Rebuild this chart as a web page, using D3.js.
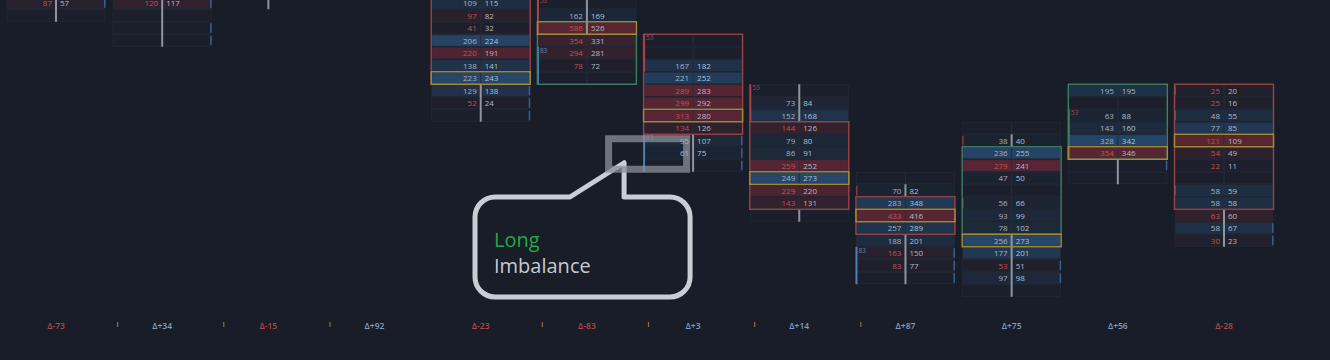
<!DOCTYPE html>
<html lang="en">
<head>
<meta charset="UTF-8">
<title>Footprint</title>
<script src="https://cdnjs.cloudflare.com/ajax/libs/d3/7.8.5/d3.min.js"></script>
<style>
  html, body { margin: 0; padding: 0; background: #181d28; }
  svg { display: block; }
</style>
</head>
<body>
<svg id="chart" width="1330" height="360"></svg>
<script>
    // bar deltas shown along the bottom
    const deltas = [-73, 34, -15, 92, -23, -83, 3, 14, 87, 75, 56, -28];

    // first price row of each ladder, then [bid, ask] per row (null = empty level)
    const ladderStart = [0, 0, 0, 0, 0, 0, 3, 7, 14, 10, 7, 7];
    const ladderVolumes = [
        [[87, 57], null],
        [[120, 117], null, null, null],
        [],
        [],
        [[109, 115], [97, 82], [41, 32], [206, 224], [220, 191], [138, 141], [223, 243], [129, 138], [52, 24], null],
        [null, [162, 169], [586, 526], [354, 331], [294, 281], [78, 72], null],
        [null, null, [167, 182], [221, 252], [289, 283], [299, 292], [313, 280], [134, 126], [95, 107], [61, 75], null],
        [null, [73, 84], [152, 168], [144, 126], [79, 80], [86, 91], [259, 252], [249, 273], [229, 220], [143, 131], null],
        [null, [70, 82], [283, 348], [433, 416], [257, 289], [188, 201], [163, 150], [83, 77], null],
        [null, [38, 40], [236, 255], [279, 241], [47, 50], null, [56, 66], [93, 99], [78, 102], [256, 273], [177, 201], [53, 51], [97, 98], null],
        [[195, 195], null, [63, 88], [143, 160], [328, 342], [354, 346], null, null],
        [[25, 20], [25, 16], [48, 55], [77, 85], [121, 109], [54, 49], [22, 11], null, [58, 59], [58, 58], [63, 60], [58, 67], [30, 23]]
    ];

    // peak level volume of bars whose ladder is mostly above the view
    const offscreenPeak = [430, 480];

    // candle bodies: [bar, fromRow, toRow, direction]
    const bodies = [
        [4, -1, 6, "down"], [5, 3, 6, "up"], [6, 3, 10, "down"], [7, 10, 16, "down"],
        [8, 16, 18, "down"], [9, 12, 18, "up"], [10, 7, 12, "up"], [11, 7, 16, "down"]
    ];

    // wick segments outside the bodies: [bar, fromRow, toRow]
    const wicks = [
        [0, 0, 1], [1, 0, 3], [2, 0, 0], [4, 7, 9], [5, 0, 2], [6, 11, 13], [7, 7, 9], [7, 17, 17],
        [8, 15, 15], [8, 19, 22], [9, 11, 11], [9, 19, 23], [10, 13, 14], [11, 17, 19]
    ];

    // stacked imbalance markers: [bar, fromRow, toRow, side, label]
    const stacks = [
        [5, 0, 2, "sell", "53"], [5, 4, 6, "buy", "83"], [6, 3, 5, "sell", "53"], [6, 11, 13, "buy", "83"],
        [7, 7, 9, "sell", "53"], [8, 20, 22, "buy", "83"], [10, 9, 12, "sell", "53"]
    ];

    // single-level imbalance ticks: [bar, row, edge]
    const edgeTicks = [
        [0, 0, "R"], [1, 0, "R"], [1, 2, "R"], [1, 3, "R"], [4, 7, "R"], [4, 8, "R"], [4, 9, "R"],
        [6, 11, "R"], [6, 12, "R"], [6, 13, "R"], [8, 20, "R"], [8, 21, "R"], [8, 22, "R"],
        [9, 21, "R"], [9, 22, "R"], [10, 13, "R"], [11, 18, "R"], [11, 19, "R"],
        [8, 15, "L"], [9, 11, "L"], [9, 16, "L"], [11, 7, "L"], [11, 9, "L"], [11, 15, "L"]
    ];

    // bars with a small alert flag next to the delta label
    const flaggedBars = [0, 1, 2, 4, 5, 6, 7];

    const svg = d3.select("#chart");
    const bg = "#181d28";
    const font = "'Open Sans', 'Noto Sans', sans-serif";

    const x = d3.scalePoint().domain(d3.range(deltas.length)).range([56, 1224]);
    const y = d3.scaleLinear().domain([0, 23]).range([3, 290.5]);
    const rowH = y(1) - y(0);
    const halfW = 49.5;
    const rowTop = r => y(r) - rowH / 2;

    const baseCell = "#1a1f2b";
    const buyFull = "#26476a";
    const sellFull = "#582533";

    const root = svg.append("g");
    const cellLayer = root.append("g");
    const markLayer = root.append("g");
    const calloutLayer = root.append("g");
    const textLayer = root.append("g")
        .attr("font-family", font)
        .attr("font-size", 8);

    // cells
    ladderVolumes.forEach((ladder, c) => {
        const maxTot = Math.max(d3.max(ladder, d => d ? d[0] + d[1] : 0) || 1, offscreenPeak[c] || 0);
        const g = cellLayer.append("g");
        const rows = ladder.map((d, i) => ({ row: ladderStart[c] + i, v: d }));

        g.selectAll("rect")
            .data(rows)
            .enter()
            .append("rect")
            .attr("x", x(c) - halfW + 0.5)
            .attr("y", d => rowTop(d.row) + 0.5)
            .attr("width", halfW * 2 - 1)
            .attr("height", rowH - 1)
            .attr("fill", d => {
                if (!d.v) return baseCell;
                const t = Math.pow((d.v[0] + d.v[1]) / maxTot, 1.4);
                return d3.interpolateRgb(baseCell, d.v[0] > d.v[1] ? sellFull : buyFull)(t);
            })
            .attr("stroke", "#232a37")
            .attr("stroke-width", 0.8);

        g.selectAll("line")
            .data(rows)
            .enter()
            .append("line")
            .attr("x1", x(c)).attr("x2", x(c))
            .attr("y1", d => rowTop(d.row) + 1)
            .attr("y2", d => rowTop(d.row) + rowH - 1)
            .attr("stroke", "#272e3c")
            .attr("stroke-width", 1);

        const filled = rows.filter(d => d.v);
        const tg = textLayer.append("g");
        tg.selectAll("text.bid")
            .data(filled)
            .enter()
            .append("text")
            .attr("class", "bid")
            .attr("x", x(c) - 4)
            .attr("y", d => y(d.row) + 3)
            .attr("text-anchor", "end")
            .attr("fill", d => d.v[0] > d.v[1] ? "#c05254" : "#a7b1c0")
            .text(d => d.v[0]);

        tg.selectAll("text.ask")
            .data(filled)
            .enter()
            .append("text")
            .attr("class", "ask")
            .attr("x", x(c) + 4)
            .attr("y", d => y(d.row) + 3)
            .attr("fill", d => d.v[1] > d.v[0] ? "#a9c0da" : "#b4b8c0")
            .text(d => d.v[1]);
    });

    // edge ticks
    markLayer.append("g").selectAll("rect")
        .data(edgeTicks)
        .enter()
        .append("rect")
        .attr("x", d => d[2] === "R" ? x(d[0]) + halfW - 1.5 : x(d[0]) - halfW)
        .attr("y", d => rowTop(d[1]) + 1.5)
        .attr("width", 1.5)
        .attr("height", rowH - 3)
        .attr("fill", d => d[2] === "R" ? "#36618e" : "#8a3840");

    // wicks
    markLayer.append("g").selectAll("line")
        .data(wicks)
        .enter()
        .append("line")
        .attr("x1", d => x(d[0])).attr("x2", d => x(d[0]))
        .attr("y1", d => rowTop(d[1]))
        .attr("y2", d => rowTop(d[2]) + rowH)
        .attr("stroke", "#8e959f")
        .attr("stroke-width", 2);

    // stacked imbalance bars + labels
    const st = markLayer.append("g");
    st.selectAll("rect")
        .data(stacks)
        .enter()
        .append("rect")
        .attr("x", d => x(d[0]) - halfW - 0.5)
        .attr("y", d => rowTop(d[1]))
        .attr("width", 2)
        .attr("height", d => (d[2] - d[1] + 1) * rowH)
        .attr("fill", d => d[3] === "sell" ? "#a8454b" : "#4f7fb3");
    st.selectAll("text")
        .data(stacks)
        .enter()
        .append("text")
        .attr("x", d => x(d[0]) - halfW + 2.5)
        .attr("y", d => rowTop(d[1]) + 6)
        .attr("font-family", font)
        .attr("font-size", 6.5)
        .attr("fill", d => d[3] === "sell" ? "#a8454b" : "#5f86b3")
        .text(d => d[4]);

    // candle bodies
    markLayer.append("g").selectAll("rect")
        .data(bodies)
        .enter()
        .append("rect")
        .attr("x", d => x(d[0]) - halfW)
        .attr("y", d => rowTop(d[1]))
        .attr("width", halfW * 2)
        .attr("height", d => (d[2] - d[1] + 1) * rowH)
        .attr("fill", "none")
        .attr("stroke", d => d[3] === "down" ? "#9a4349" : "#3f7d64")
        .attr("stroke-width", 1.4);

    // point of control per bar
    const pocs = ladderVolumes.map((ladder, c) => {
        if (!ladder.length) return null;
        const i = d3.maxIndex(ladder, d => d ? d[0] + d[1] : -1);
        return { c, row: ladderStart[c] + i };
    }).filter(d => d && ladderVolumes[d.c].filter(v => v).length > 2);

    markLayer.append("g").selectAll("rect")
        .data(pocs)
        .enter()
        .append("rect")
        .attr("x", d => x(d.c) - halfW)
        .attr("y", d => rowTop(d.row))
        .attr("width", halfW * 2)
        .attr("height", rowH)
        .attr("fill", "none")
        .attr("stroke", "#a68d34")
        .attr("stroke-width", 1.4);

    // delta labels
    const axis = root.append("g");
    axis.selectAll("text")
        .data(deltas)
        .enter()
        .append("text")
        .attr("x", (d, i) => x(i))
        .attr("y", 329)
        .attr("text-anchor", "middle")
        .attr("font-family", font)
        .attr("font-size", 8.5)
        .attr("font-weight", 600)
        .attr("fill", d => d < 0 ? "#b0474c" : "#7f9dc3")
        .text(d => "Δ" + (d < 0 ? "-" + Math.abs(d) : "+" + d));

    axis.selectAll("rect")
        .data(flaggedBars)
        .enter()
        .append("rect")
        .attr("x", d => x(d) + 61)
        .attr("y", 322)
        .attr("width", 1.2)
        .attr("height", 5)
        .attr("fill", "#8a7238");

    // callout pointing at the buy-side stack in bar 7
    const hl = { x0: x(6) - 88, x1: x(6) - 3, y0: rowTop(11) + 1, y1: rowTop(13) + rowH + 1 };
    const sw = 7;

    const b = { l: 475, r: hl.x1, t: 197, btm: 297, rad: 20 };
    const tipX = hl.x0 + 19, tipY = hl.y1 - 10, baseX = 570;
    const p = d3.path();
    p.moveTo(b.l + b.rad, b.t);
    p.lineTo(baseX, b.t);
    p.lineTo(tipX, tipY);
    p.lineTo(tipX, b.t);
    p.lineTo(b.r - b.rad, b.t);
    p.arcTo(b.r, b.t, b.r, b.t + b.rad, b.rad);
    p.lineTo(b.r, b.btm - b.rad);
    p.arcTo(b.r, b.btm, b.r - b.rad, b.btm, b.rad);
    p.lineTo(b.l + b.rad, b.btm);
    p.arcTo(b.l, b.btm, b.l, b.btm - b.rad, b.rad);
    p.lineTo(b.l, b.t + b.rad);
    p.arcTo(b.l, b.t, b.l + b.rad, b.t, b.rad);
    p.closePath();

    calloutLayer.append("path")
        .attr("d", p.toString())
        .attr("fill", bg)
        .attr("stroke", "#c9cdd4")
        .attr("stroke-width", 5)
        .attr("stroke-linejoin", "round");

    calloutLayer.append("rect")
        .attr("x", hl.x0 + sw / 2)
        .attr("y", hl.y0 + sw / 2)
        .attr("width", hl.x1 - hl.x0 - sw)
        .attr("height", hl.y1 - hl.y0 - sw)
        .attr("fill", "none")
        .attr("stroke", "#8a8f98")
        .attr("stroke-opacity", 0.75)
        .attr("stroke-width", sw);

    calloutLayer.append("text")
        .attr("x", 494).attr("y", 247)
        .attr("font-family", font).attr("font-size", 20)
        .attr("fill", "#25a844")
        .text("Long");
    calloutLayer.append("text")
        .attr("x", 494).attr("y", 273)
        .attr("font-family", font).attr("font-size", 20)
        .attr("fill", "#c6cad1")
        .text("Imbalance");
</script>
</body>
</html>
